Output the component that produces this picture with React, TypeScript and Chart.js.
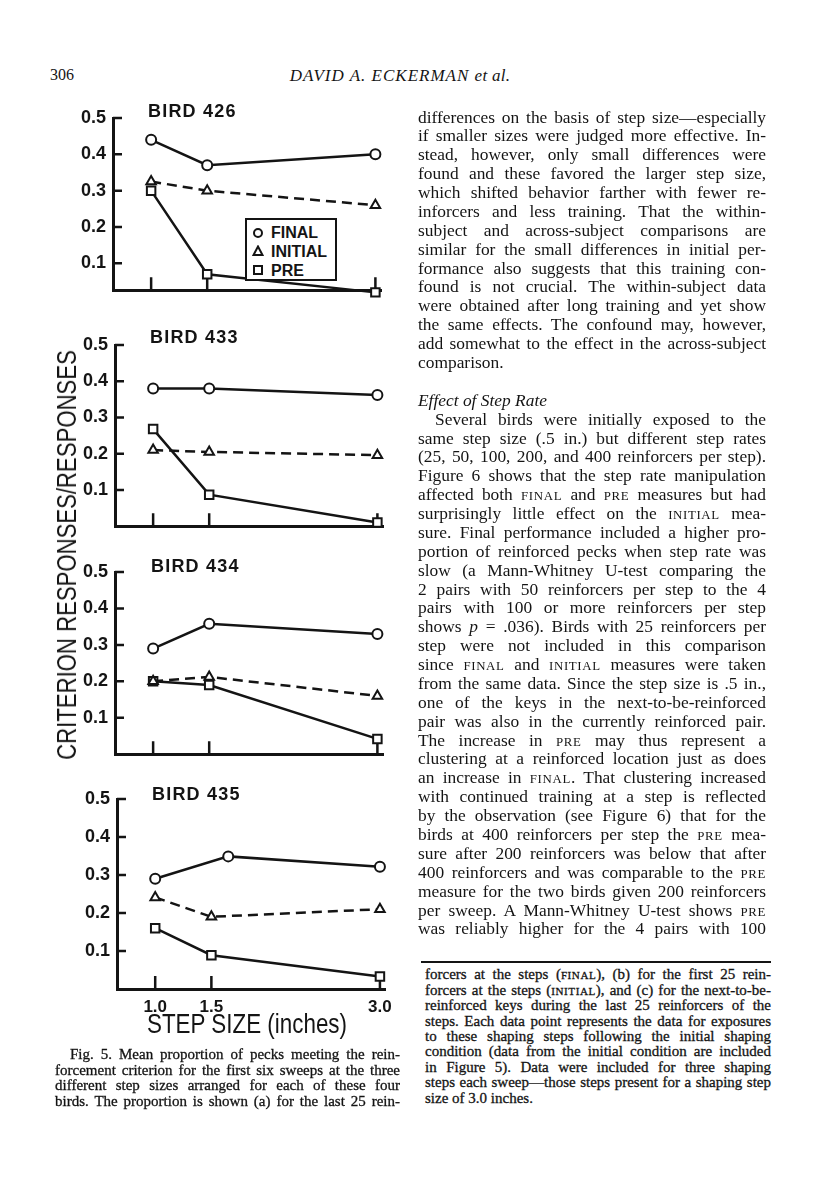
import React, { useEffect, useRef } from "react";
import { Chart, registerables } from "chart.js";

Chart.register(...registerables);

// ---------- data ----------
const stepSizes = [1.0, 1.5, 3.0];
const xTickLabels = ["1.0", "1.5", "3.0"];
const yTickValues = [0.1, 0.2, 0.3, 0.4, 0.5];
const seriesNames = ["FINAL", "INITIAL", "PRE"];
const birdNames = ["BIRD 426", "BIRD 433", "BIRD 434", "BIRD 435"];

const bird426Final = [0.44, 0.37, 0.4];
const bird426Initial = [0.325, 0.3, 0.26];
const bird426Pre = [0.3, 0.07, 0.02];

const bird433Final = [0.38, 0.38, 0.362];
const bird433Initial = [0.21, 0.205, 0.196];
const bird433Pre = [0.268, 0.087, 0.01];

const bird434Final = [0.29, 0.358, 0.33];
const bird434Initial = [0.2, 0.212, 0.16];
const bird434Pre = [0.2, 0.19, 0.042];

const bird435FinalX = [1.0, 1.65, 3.0];
const bird435Final = [0.29, 0.349, 0.322];
const bird435Initial = [0.241, 0.19, 0.21];
const bird435Pre = [0.16, 0.089, 0.033];

// ---------- layout ----------
const INK = "#141414";
const SANS = "'Liberation Sans', Arial, sans-serif";
const SERIF = "'Liberation Serif', 'Times New Roman', serif";

type PanelSpec = {
  title: string;
  finalX: number[];
  final: number[];
  initial: number[];
  pre: number[];
  top: number;
  height: number;
  left: number;
  padRight: number;
  yMin: number;
  xAxisH: number;
  showX: boolean;
  titleX: number;
  titleY: number;
};

const panels: PanelSpec[] = [
  { title: birdNames[0], finalX: stepSizes, final: bird426Final, initial: bird426Initial, pre: bird426Pre,
    top: 98, height: 210, left: 113, padRight: 19, yMin: 0.026, xAxisH: 10, showX: false, titleX: 148, titleY: 112 },
  { title: birdNames[1], finalX: stepSizes, final: bird433Final, initial: bird433Initial, pre: bird433Pre,
    top: 325, height: 219, left: 115, padRight: 17, yMin: 0, xAxisH: 10, showX: false, titleX: 150, titleY: 338 },
  { title: birdNames[2], finalX: stepSizes, final: bird434Final, initial: bird434Initial, pre: bird434Pre,
    top: 552, height: 220, left: 115, padRight: 17, yMin: 0, xAxisH: 10, showX: false, titleX: 151, titleY: 567 },
  { title: birdNames[3], finalX: bird435FinalX, final: bird435Final, initial: bird435Initial, pre: bird435Pre,
    top: 779, height: 245, left: 117, padRight: 12, yMin: 0, xAxisH: 35, showX: true, titleX: 152, titleY: 795 },
];

const innerTicks = {
  id: "innerTicks",
  beforeDatasetsDraw(chart: any) {
    const { ctx, chartArea, scales } = chart;
    const xs = scales.x;
    const ys = scales.y;
    ctx.save();
    ctx.strokeStyle = INK;
    ctx.lineWidth = 2.5;
    ctx.beginPath();
    ys.ticks.forEach((t: any) => {
      const py = ys.getPixelForValue(t.value);
      ctx.moveTo(chartArea.left, py);
      ctx.lineTo(chartArea.left + 9, py);
    });
    xs.ticks.forEach((t: any) => {
      const px = xs.getPixelForValue(t.value);
      ctx.moveTo(px, chartArea.bottom);
      ctx.lineTo(px, chartArea.bottom - 13);
    });
    ctx.stroke();
    ctx.restore();
  },
};

function Panel({ spec }: { spec: PanelSpec }) {
  const ref = useRef<HTMLCanvasElement>(null);
  useEffect(() => {
    const common = {
      borderColor: INK,
      borderWidth: 2.5,
      pointBorderColor: INK,
      pointBackgroundColor: "#fff",
      pointBorderWidth: 2,
      tension: 0,
      clip: false as any,
    };
    const chart = new Chart(ref.current as HTMLCanvasElement, {
      type: "line",
      data: {
        datasets: [
          { ...common, label: seriesNames[0], data: spec.finalX.map((x, i) => ({ x, y: spec.final[i] })),
            pointStyle: "circle", pointRadius: 5 },
          { ...common, label: seriesNames[1], data: stepSizes.map((x, i) => ({ x, y: spec.initial[i] })),
            pointStyle: "triangle", pointRadius: 5.5, borderDash: [10, 6] },
          { ...common, label: seriesNames[2], data: stepSizes.map((x, i) => ({ x, y: spec.pre[i] })),
            pointStyle: "rect", pointRadius: 6 },
        ],
      },
      options: {
        animation: false,
        responsive: false,
        maintainAspectRatio: false,
        events: [],
        layout: { padding: { top: 20, right: spec.padRight, bottom: 0, left: 0 } },
        plugins: { legend: { display: false }, tooltip: { enabled: false }, title: { display: false } },
        scales: {
          x: {
            type: "linear",
            min: 0.66,
            max: 3.05,
            afterBuildTicks: (s: any) => { s.ticks = stepSizes.map((v) => ({ value: v })); },
            afterFit: (s: any) => { s.height = spec.xAxisH; },
            grid: { display: false, drawTicks: false },
            border: { display: true, color: INK, width: 3 },
            ticks: {
              display: spec.showX,
              padding: 8,
              color: INK,
              autoSkip: false,
              maxRotation: 0,
              font: { family: SANS, size: 17, weight: "bold" },
              callback: (_v: any, i: number) => xTickLabels[i],
            },
          },
          y: {
            type: "linear",
            min: spec.yMin,
            max: 0.5,
            afterBuildTicks: (s: any) => { s.ticks = yTickValues.map((v) => ({ value: v })); },
            afterFit: (s: any) => { s.width = spec.left; },
            grid: { display: false, drawTicks: false },
            border: { display: true, color: INK, width: 3 },
            ticks: {
              padding: 7,
              color: INK,
              font: { family: SANS, size: 18, weight: "bold" },
              callback: (v: any) => Number(v).toFixed(1),
            },
          },
        },
      },
      plugins: [innerTicks],
    } as any);
    return () => chart.destroy();
  }, [spec]);
  return (
    <>
      <canvas
        ref={ref}
        width={400}
        height={spec.height}
        style={{ position: "absolute", left: 0, top: spec.top, width: 400, height: spec.height }}
      />
      <div
        style={{
          position: "absolute", left: spec.titleX, top: spec.titleY - 11, height: 22, lineHeight: "22px",
          font: `bold 18px ${SANS}`, letterSpacing: "1.2px", color: INK, whiteSpace: "nowrap",
        }}
      >
        {spec.title}
      </div>
    </>
  );
}

function LegendBox() {
  const rows = [
    { name: seriesNames[0], sym: <circle cx="6" cy="6" r="4" fill="#fff" stroke={INK} strokeWidth="2" /> },
    { name: seriesNames[1], sym: <polygon points="6,1.5 10.5,10 1.5,10" fill="#fff" stroke={INK} strokeWidth="2" /> },
    { name: seriesNames[2], sym: <rect x="2" y="2" width="8" height="8" fill="#fff" stroke={INK} strokeWidth="2" /> },
  ];
  return (
    <div
      style={{
        position: "absolute", left: 245, top: 218, width: 88, height: 59, border: `2px solid ${INK}`,
        background: "#fff",
      }}
    >
      {rows.map((r, i) => (
        <div key={r.name} style={{ position: "absolute", left: 5, top: 3 + i * 18.8, height: 19, display: "flex", alignItems: "center" }}>
          <svg width="12" height="12" style={{ marginRight: 7 }}>{r.sym}</svg>
          <span style={{ font: `bold 16px ${SANS}`, color: INK, lineHeight: "19px" }}>{r.name}</span>
        </div>
      ))}
    </div>
  );
}

// ---------- text ----------
type TLine = { t: string; last?: boolean; indent?: number; italic?: boolean };

const rightColumn: TLine[] = [
  { t: "differences on the basis of step size—especially" },
  { t: "if smaller sizes were judged more effective. In-" },
  { t: "stead, however, only small differences were" },
  { t: "found and these favored the larger step size," },
  { t: "which shifted behavior farther with fewer re-" },
  { t: "inforcers and less training. That the within-" },
  { t: "subject and across-subject comparisons are" },
  { t: "similar for the small differences in initial per-" },
  { t: "formance also suggests that this training con-" },
  { t: "found is not crucial. The within-subject data" },
  { t: "were obtained after long training and yet show" },
  { t: "the same effects. The confound may, however," },
  { t: "add somewhat to the effect in the across-subject" },
  { t: "comparison.", last: true },
  { t: "", last: true },
  { t: "Effect of Step Rate", last: true, italic: true },
  { t: "Several birds were initially exposed to the", indent: 17 },
  { t: "same step size (.5 in.) but different step rates" },
  { t: "(25, 50, 100, 200, and 400 reinforcers per step)." },
  { t: "Figure 6 shows that the step rate manipulation" },
  { t: "affected both [FINAL] and [PRE] measures but had" },
  { t: "surprisingly little effect on the [INITIAL] mea-" },
  { t: "sure. Final performance included a higher pro-" },
  { t: "portion of reinforced pecks when step rate was" },
  { t: "slow (a Mann-Whitney U-test comparing the" },
  { t: "2 pairs with 50 reinforcers per step to the 4" },
  { t: "pairs with 100 or more reinforcers per step" },
  { t: "shows *p* = .036). Birds with 25 reinforcers per" },
  { t: "step were not included in this comparison" },
  { t: "since [FINAL] and [INITIAL] measures were taken" },
  { t: "from the same data. Since the step size is .5 in.," },
  { t: "one of the keys in the next-to-be-reinforced" },
  { t: "pair was also in the currently reinforced pair." },
  { t: "The increase in [PRE] may thus represent a" },
  { t: "clustering at a reinforced location just as does" },
  { t: "an increase in [FINAL]. That clustering increased" },
  { t: "with continued training at a step is reflected" },
  { t: "by the observation (see Figure 6) that for the" },
  { t: "birds at 400 reinforcers per step the [PRE] mea-" },
  { t: "sure after 200 reinforcers was below that after" },
  { t: "400 reinforcers and was comparable to the [PRE]" },
  { t: "measure for the two birds given 200 reinforcers" },
  { t: "per sweep. A Mann-Whitney U-test shows [PRE]" },
  { t: "was reliably higher for the 4 pairs with 100" },
];

const captionLeft: TLine[] = [
  { t: "Fig. 5. Mean proportion of pecks meeting the rein-", indent: 15 },
  { t: "forcement criterion for the first six sweeps at the three" },
  { t: "different step sizes arranged for each of these four" },
  { t: "birds. The proportion is shown (a) for the last 25 rein-" },
];

const captionRight: TLine[] = [
  { t: "forcers at the steps ([FINAL]), (b) for the first 25 rein-" },
  { t: "forcers at the steps ([INITIAL]), and (c) for the next-to-be-" },
  { t: "reinforced keys during the last 25 reinforcers of the" },
  { t: "steps. Each data point represents the data for exposures" },
  { t: "to these shaping steps following the initial shaping" },
  { t: "condition (data from the initial condition are included" },
  { t: "in Figure 5). Data were included for three shaping" },
  { t: "steps each sweep—those steps present for a shaping step" },
  { t: "size of 3.0 inches.", last: true },
];

function rich(s: string) {
  const parts = s.split(/(\[[^\]]+\]|\*[^*]+\*)/);
  return parts.map((p, i) => {
    if (p.startsWith("[") && p.endsWith("]"))
      return <span key={i} style={{ fontSize: "0.74em", letterSpacing: "0.05em" }}>{p.slice(1, -1)}</span>;
    if (p.startsWith("*") && p.endsWith("*") && p.length > 2) return <em key={i}>{p.slice(1, -1)}</em>;
    return <React.Fragment key={i}>{p}</React.Fragment>;
  });
}

function TextBlock(props: {
  lines: TLine[]; left: number; width: number; firstCenter: number; lineH: number; size: number; extra?: any;
}) {
  const { lines, left, width, firstCenter, lineH, size, extra } = props;
  return (
    <>
      {lines.map((ln, i) => (
        <div
          key={i}
          style={{
            position: "absolute",
            left,
            width,
            top: firstCenter - lineH / 2 + i * lineH,
            height: lineH,
            lineHeight: `${lineH}px`,
            fontFamily: SERIF,
            fontSize: size,
            fontStyle: ln.italic ? "italic" : "normal",
            color: INK,
            whiteSpace: "nowrap",
            textAlign: ln.last ? "left" : "justify",
            textAlignLast: ln.last ? "left" : "justify",
            paddingLeft: ln.indent || 0,
            boxSizing: "border-box",
            ...(extra || {}),
          } as any}
        >
          {rich(ln.t)}
        </div>
      ))}
    </>
  );
}

export default function App() {
  return (
    <div style={{ position: "absolute", left: 0, top: 0, width: 816, height: 1200, background: "#fff", overflow: "hidden" }}>
      {/* running head */}
      <div style={{ position: "absolute", left: 50, top: 66, lineHeight: "20px", font: `16px ${SERIF}`, color: INK }}>306</div>
      <div
        style={{
          position: "absolute", left: 400, top: 66, transform: "translateX(-50%)", lineHeight: "20px",
          font: `italic 17px ${SERIF}`, letterSpacing: "1px", color: INK, whiteSpace: "nowrap",
        }}
      >
        DAVID A. ECKERMAN <span style={{ letterSpacing: "0.3px" }}>et al.</span>
      </div>

      {panels.map((p) => (
        <Panel key={p.title} spec={p} />
      ))}
      <LegendBox />

      {/* y-axis label */}
      <div
        style={{
          position: "absolute", left: 67, top: 555, transform: "translate(-50%, -50%) rotate(-90deg) scaleX(0.82)",
          font: `27px ${SANS}`, color: INK, whiteSpace: "nowrap", lineHeight: "30px",
        }}
      >
        CRITERION RESPONSES/RESPONSES
      </div>

      {/* x-axis label */}
      <div
        style={{
          position: "absolute", left: 247, top: 1024, transform: "translate(-50%, -50%) scaleX(0.8)",
          font: `28px ${SANS}`, color: INK, whiteSpace: "nowrap", lineHeight: "32px",
        }}
      >
        STEP SIZE (inches)
      </div>

      <TextBlock lines={rightColumn} left={418} width={348} firstCenter={117} lineH={18.88} size={17.4} />

      <div style={{ position: "absolute", left: 421, top: 961, width: 350, height: 2, background: INK }} />

      <TextBlock lines={captionRight} left={425} width={346} firstCenter={975} lineH={15.4} size={15}
        extra={{ WebkitTextStroke: "0.3px #141414" }} />
      <TextBlock lines={captionLeft} left={55} width={345} firstCenter={1055} lineH={15.4} size={15}
        extra={{ WebkitTextStroke: "0.3px #141414" }} />
    </div>
  );
}
